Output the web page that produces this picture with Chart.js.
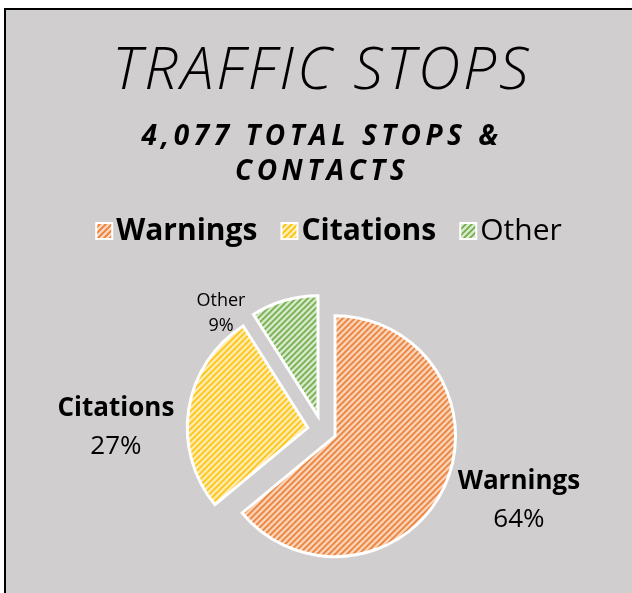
<!DOCTYPE html>
<html>
<head>
<meta charset="utf-8">
<script src="https://cdn.jsdelivr.net/npm/chart.js@4.4.0/dist/chart.umd.min.js"></script>
<style>
  html, body { margin: 0; padding: 0; background: #fff; }
</style>
</head>
<body>
<canvas id="chart" width="632" height="593"></canvas>
<script>
const CATEGORIES = ['Warnings', 'Citations', 'Other'];
const SHARES = [64, 27, 9]; // % of the 4,077 stops & contacts
const TITLE = 'TRAFFIC STOPS';
const SUBTITLE = ['4,077 TOTAL STOPS &', 'CONTACTS'];

const LINE_COLORS = ['#ed7d31', '#ffc000', '#70ad47'];
const FILL_COLORS = ['#f9d6bd', '#ffeebb', '#d9e9cd'];
const BOLD = [true, true, false]; // "Other" is set in regular weight everywhere
const FONT = '"Open Sans", "Noto Sans", sans-serif';

// upward diagonal hatch like the Excel pattern fill
function hatch(line, fill) {
  const c = document.createElement('canvas');
  c.width = c.height = 6;
  const g = c.getContext('2d');
  g.fillStyle = fill;
  g.fillRect(0, 0, 6, 6);
  g.strokeStyle = line;
  g.lineWidth = 1.7;
  g.beginPath();
  g.moveTo(-1, 7); g.lineTo(7, -1);
  g.moveTo(-1, 1); g.lineTo(1, -1);
  g.moveTo(5, 7); g.lineTo(7, 5);
  g.stroke();
  return g.createPattern(c, 'repeat');
}
const patterns = LINE_COLORS.map((c, i) => hatch(c, FILL_COLORS[i]));

// grey panel with the black frame on the left/top
const frame = {
  id: 'frame',
  beforeDraw(chart) {
    const {ctx, width, height} = chart;
    ctx.save();
    ctx.fillStyle = '#fff';
    ctx.fillRect(0, 0, width, height);
    ctx.fillStyle = '#000';
    ctx.fillRect(4, 8, width, height);
    ctx.fillStyle = '#d0cece';
    ctx.fillRect(6, 10, width, height);
    ctx.restore();
  }
};

// letter spacing for title + subtitle
const spacedTitles = {
  id: 'spacedTitles',
  beforeDraw(chart) {
    chart.boxes.forEach(box => {
      if (!(box instanceof Chart.Title._element) || box._spaced) return;
      const draw = box.draw;
      const spacing = box === chart.titleBlock ? '3px' : '4.5px';
      box.draw = function() {
        this.ctx.save();
        this.ctx.letterSpacing = spacing;
        draw.apply(this, arguments);
        this.ctx.restore();
      };
      box._spaced = true;
    });
  }
};

// pull every slice out of the pie by the same distance
const explode = {
  id: 'explode',
  beforeDatasetDraw(chart, args, opts) {
    args.meta.data.forEach(arc => {
      if (arc._exploded) return;
      const draw = arc.draw;
      arc.draw = function(ctx, area) {
        const mid = (this.startAngle + this.endAngle) / 2;
        ctx.save();
        ctx.translate(Math.cos(mid) * opts.distance, Math.sin(mid) * opts.distance);
        draw.call(this, ctx, area);
        ctx.restore();
      };
      arc._exploded = true;
    });
  }
};

// legend with mixed bold / regular entries
const mixedLegend = {
  id: 'mixedLegend',
  afterDraw(chart, args, opts) {
    const ctx = chart.ctx;
    const ds = chart.data.datasets[0];
    ctx.save();
    ctx.textBaseline = 'middle';
    const items = chart.data.labels.map((label, i) => {
      ctx.font = (BOLD[i] ? 'bold ' : '') + opts.size + 'px ' + FONT;
      return {label, i, font: ctx.font, w: ctx.measureText(label).width};
    });
    const total = items.reduce((s, it) => s + opts.box + opts.boxGap + it.w, 0) + opts.itemGap * (items.length - 1);
    let x = opts.centerX - total / 2;
    items.forEach(it => {
      ctx.fillStyle = ds.backgroundColor[it.i];
      ctx.fillRect(x, opts.y - opts.box / 2, opts.box, opts.box);
      ctx.strokeStyle = '#fff';
      ctx.lineWidth = 2;
      ctx.strokeRect(x, opts.y - opts.box / 2, opts.box, opts.box);
      x += opts.box + opts.boxGap;
      ctx.font = it.font;
      ctx.fillStyle = '#000';
      ctx.fillText(it.label, x, opts.y);
      x += it.w + opts.itemGap;
    });
    ctx.restore();
  }
};

// "name / xx%" labels outside the slices
const sliceLabels = {
  id: 'sliceLabels',
  afterDatasetsDraw(chart, args, opts) {
    const ctx = chart.ctx;
    const values = chart.data.datasets[0].data;
    const total = values.reduce((a, b) => a + b, 0);
    chart.getDatasetMeta(0).data.forEach((arc, i) => {
      const a = opts.angles[i] * Math.PI / 180;
      const r = arc.outerRadius * opts.distances[i];
      const x = arc.x + Math.cos(a) * r;
      const y = arc.y + Math.sin(a) * r;
      const size = opts.sizes[i];
      const step = size * opts.lineHeights[i];
      ctx.save();
      ctx.fillStyle = '#000';
      ctx.textAlign = 'center';
      ctx.textBaseline = 'middle';
      ctx.font = (BOLD[i] ? 'bold ' : '') + size + 'px ' + FONT;
      ctx.fillText(chart.data.labels[i], x, y - step / 2);
      ctx.font = size + 'px ' + FONT;
      ctx.fillText(Math.round(values[i] / total * 100) + '%', x, y + step / 2);
      ctx.restore();
    });
  }
};

const chart = new Chart(document.getElementById('chart'), {
  type: 'pie',
  data: {
    labels: CATEGORIES,
    datasets: [{
      data: SHARES,
      backgroundColor: patterns,
      borderColor: '#fff',
      borderWidth: 3,
      borderJoinStyle: 'miter',
      hoverOffset: 0,
      offset: 0
    }]
  },
  options: {
    responsive: false,
    animation: false,
    events: [],
    layout: { padding: { left: 12, right: 0, top: 0, bottom: 41 } },
    plugins: {
      legend: { display: false },
      tooltip: { enabled: false },
      title: {
        display: true,
        text: TITLE,
        color: '#000',
        font: { family: FONT, size: 59, style: 'italic', weight: 300, lineHeight: 1.2 },
        padding: { top: 37, bottom: 0 }
      },
      subtitle: {
        display: true,
        text: SUBTITLE,
        color: '#000',
        font: { family: FONT, size: 28, style: 'italic', weight: 'bold', lineHeight: 1.25 },
        padding: { top: 12, bottom: 118.2 }
      },
      explode: { distance: 14.4 },
      mixedLegend: { y: 231, centerX: 329, size: 30, box: 16, boxGap: 4, itemGap: 24 },
      sliceLabels: {
        angles: [19.6, 180.7, 229.2],
        distances: [1.735, 1.71, 1.283],
        sizes: [26, 26, 18],
        lineHeights: [1.46, 1.44, 1.39]
      }
    }
  },
  plugins: [frame, spacedTitles, explode, mixedLegend, sliceLabels]
});
</script>
</body>
</html>
